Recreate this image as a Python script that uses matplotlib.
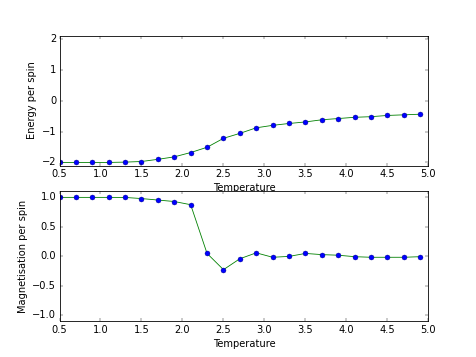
import matplotlib
matplotlib.use('Agg')
import matplotlib.pyplot as plt

plt.style.use('classic')

# 温度与对应的能量、磁化强度
temperature = [0.5, 0.7, 0.9, 1.1, 1.3, 1.5, 1.7, 1.9, 2.1, 2.3, 2.5, 2.7,
               2.9, 3.1, 3.3, 3.5, 3.7, 3.9, 4.1, 4.3, 4.5, 4.7, 4.9]
energy = [-2.0, -2.0, -2.0, -2.0, -1.99, -1.97, -1.90, -1.82, -1.68, -1.51,
          -1.22, -1.06, -0.88, -0.80, -0.74, -0.69, -0.62, -0.58, -0.54,
          -0.52, -0.48, -0.46, -0.44]
magnetisation = [1.0, 1.0, 1.0, 1.0, 0.999, 0.98, 0.955, 0.93, 0.876, 0.05,
                 -0.225, -0.04, 0.06, -0.015, 0.0, 0.05, 0.03, 0.02, -0.005,
                 -0.015, -0.015, -0.015, -0.005]

fig = plt.figure(figsize=(8, 6), dpi=59.5)

ax1 = fig.add_subplot(2, 1, 1)
ax1.plot(temperature, energy, 'g-')
ax1.plot(temperature, energy, 'bo', mec='navy', mew=0.5)
ax1.set_xlim(0.5, 5.0)
ax1.set_ylim(-2.1, 2.1)
ax1.set_xlabel('Temperature')
ax1.set_ylabel('Energy per spin')

ax2 = fig.add_subplot(2, 1, 2)
ax2.plot(temperature, magnetisation, 'g-')
ax2.plot(temperature, magnetisation, 'bo', mec='navy', mew=0.5)
ax2.set_xlim(0.5, 5.0)
ax2.set_ylim(-1.1, 1.1)
ax2.set_xlabel('Temperature')
ax2.set_ylabel('Magnetisation per spin')

fig.savefig('out.png', dpi=59.5, facecolor='white')
